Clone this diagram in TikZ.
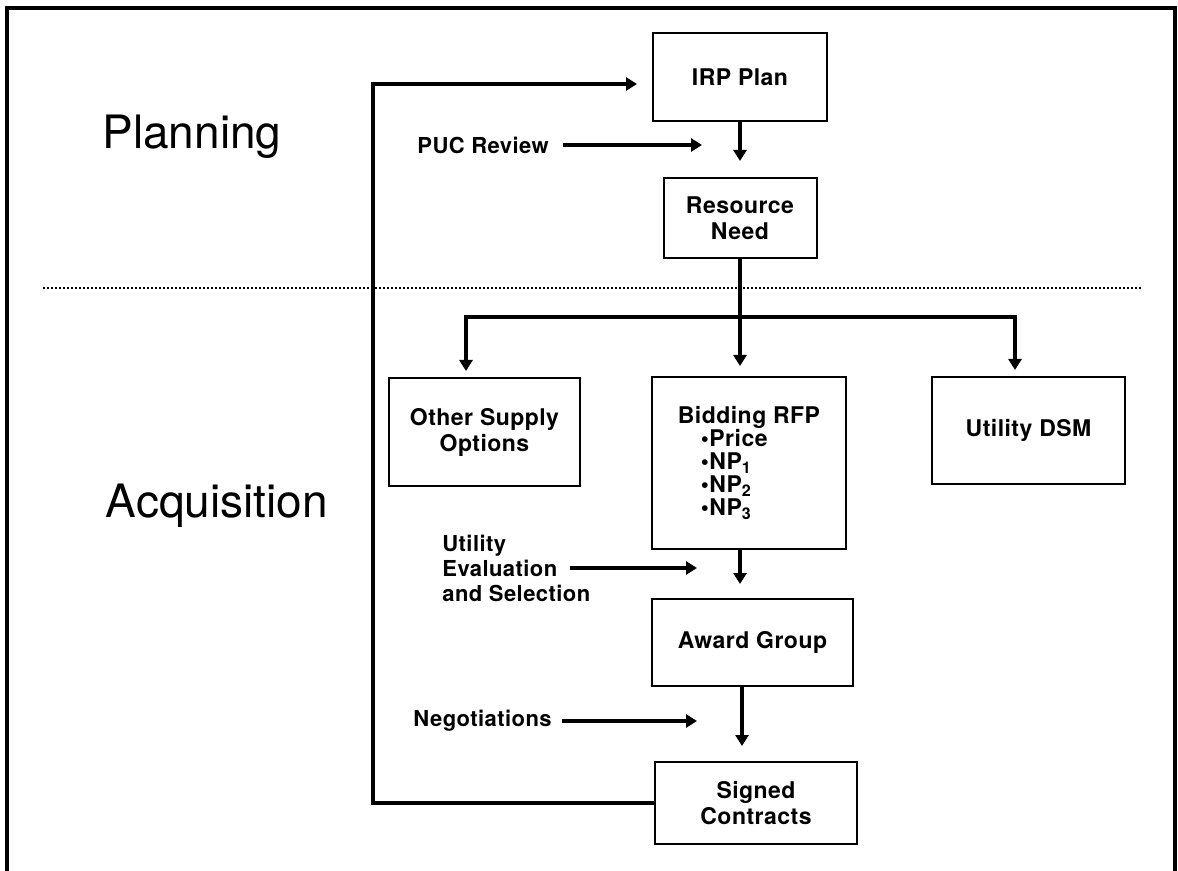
\documentclass[tikz,border=0pt]{standalone}
\usepackage{fontspec}
\setmainfont{TeX Gyre Heros}
\newfontfamily\chartfont[LetterSpace=2]{TeX Gyre Heros}
\usetikzlibrary{arrows.meta}

\begin{document}
\begin{tikzpicture}
[x=0.5pt,y=-0.5pt,
 >={Triangle[width=6.5pt,length=5.5pt]},
 box/.style={rectangle,draw,line width=1pt,inner sep=2pt,align=center,
             font=\chartfont\fontsize{11.5}{13}\selectfont\bfseries},
 tag/.style={inner sep=0pt,align=left,font=\chartfont\fontsize{11}{12.5}\selectfont\bfseries},
 phase/.style={inner sep=0pt,font=\fontsize{23}{27}\selectfont},
 flow/.style={line width=2.2pt,->},
 fork/.style={line width=2.2pt,<->}]
\useasboundingbox (0,0) rectangle (1178,871);
\draw[line width=2pt] (7,871) -- (7,8) -- (1175,8) -- (1175,871);
\draw[line width=0.7pt,dash pattern=on 1pt off 1pt] (43,288) -- (1143,288);
%
\node[phase] (planning) at (192,137) {Planning};
\node[phase] (acq)      at (217,506) {Acquisition};
%
\node[box,minimum width=87pt,minimum height=44pt]     (irp)    at (740,77)      {IRP Plan};
\node[box,minimum width=76.5pt,minimum height=40pt]   (need)   at (740,218)     {Resource\\Need};
\node[box,minimum width=95.5pt,minimum height=54pt]   (other)  at (484.5,432)   {Other Supply\\Options};
\node[box,minimum width=97pt,minimum height=86pt,align=left,
      font=\chartfont\fontsize{11.5}{11.5}\selectfont\bfseries] (bid) at (749,463)
      {Bidding RFP\\
       \hspace*{1em}\textbullet Price\\
       \hspace*{1em}\textbullet NP\textsubscript{1}\\
       \hspace*{1em}\textbullet NP\textsubscript{2}\\
       \hspace*{1em}\textbullet NP\textsubscript{3}};
\node[box,minimum width=96.5pt,minimum height=53.5pt] (dsm)    at (1028.5,430.5) {Utility DSM};
\node[box,minimum width=100.5pt,minimum height=43.5pt] (award) at (752.5,642.5) {Award Group};
\node[box,minimum width=101pt,minimum height=41pt]    (signed) at (756,803)     {Signed\\Contracts};
%
\node[tag,anchor=west] (puc)     at (417,145) {PUC Review};
\node[tag,anchor=west] (evalsel) at (442,568) {Utility\\Evaluation\\and Selection};
\node[tag,anchor=west] (nego)    at (413,721) {Negotiations};
%
\coordinate (pucto)    at (702,145);
\coordinate (evalfrom) at (570,568);
\coordinate (evalto)   at (697,568);
\coordinate (negoto)   at (697,721);
\coordinate (brL)      at (466,317);
\coordinate (brR)      at (1015,317);
\coordinate (loop)     at (373,84);
%
\draw[flow,shorten >=8pt] (irp.south) -- (irp.south |- need.north);
\draw[flow,shorten >=5pt] (need.south) -- (need.south |- bid.north);
\draw[fork,shorten <=3pt,shorten >=3pt] (other.north -| brL) -- (brL) -- (brR) -- (brR |- dsm.north);
\draw[flow,shorten >=7pt] (bid.south -| 740,0) -- (award.north -| 740,0);
\draw[flow,shorten >=7.5pt] (award.south -| 742,0) -- (signed.north -| 742,0);
\draw[flow,shorten >=7.5pt] (signed.west) -| (loop) -- (loop -| irp.west);
%
\draw[flow,shorten <=7pt] (puc.east) -- (pucto);
\draw[flow] (evalfrom) -- (evalto);
\draw[flow,shorten <=5pt] (nego.east) -- (negoto);
\end{tikzpicture}
\end{document}
